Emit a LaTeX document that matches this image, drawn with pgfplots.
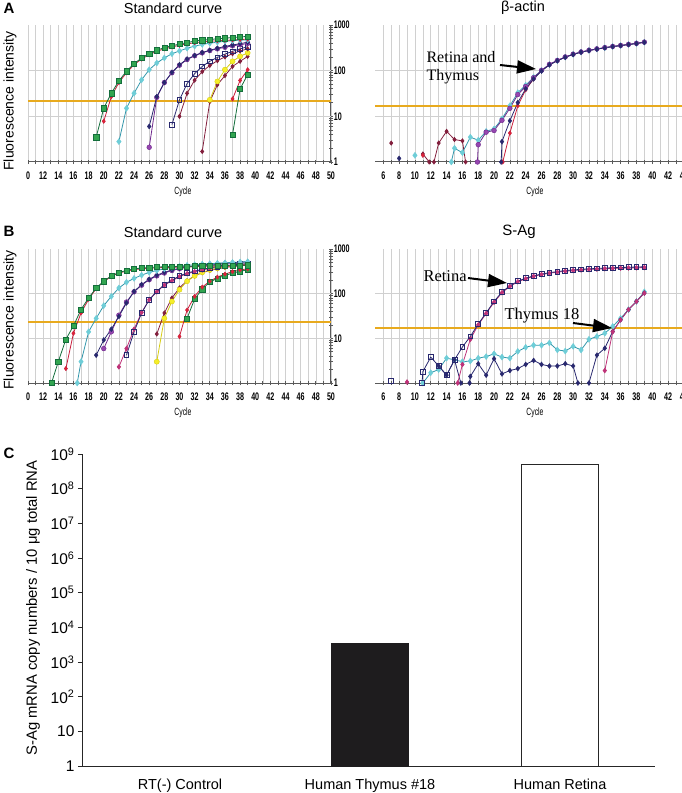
\documentclass[border=0pt]{standalone}
\usepackage{fontspec}
\setmainfont{Liberation Sans}
\newfontfamily\narrowfont[FakeStretch=0.65]{Liberation Sans}
\newfontfamily\serifA{Liberation Serif}
\usepackage{pgfplots}
\pgfplotsset{compat=1.18}
\usetikzlibrary{arrows.meta}

\definecolor{axgray}{RGB}{90,90,90}
\definecolor{gridgray}{RGB}{208,208,208}
\definecolor{thr}{RGB}{232,170,30}
\definecolor{lnGreen}{RGB}{20,110,60}
\definecolor{mkGreen}{RGB}{50,165,80}
\definecolor{lnRed}{RGB}{200,30,60}
\definecolor{mkRed}{RGB}{225,35,55}
\definecolor{lnCyan}{RGB}{50,150,170}
\definecolor{mkCyan}{RGB}{110,205,215}
\definecolor{lnPurple}{RGB}{110,40,140}
\definecolor{mkPurple}{RGB}{150,70,175}
\definecolor{navy}{RGB}{40,40,110}
\definecolor{lnYellow}{RGB}{215,205,20}
\definecolor{mkYellow}{RGB}{245,238,40}
\definecolor{brownred}{RGB}{130,30,60}
\definecolor{magenta2}{RGB}{190,50,120}
\definecolor{barblack}{RGB}{30,28,30}

\newcommand\tickfont{\narrowfont\bfseries\fontsize{11}{12}\selectfont}

\tikzset{
  sGreen/.style={color=lnGreen, line width=0.8pt, mark=square*, mark size=2.6pt, mark options={fill=mkGreen, draw=lnGreen, line width=0.4pt}},
  sRed/.style={color=lnRed, line width=0.8pt, mark=diamond*, mark size=2.2pt, mark options={fill=mkRed, draw=lnRed, line width=0.4pt}},
  sCyan/.style={color=lnCyan, line width=0.8pt, mark=diamond*, mark size=3pt, mark options={fill=mkCyan, draw=mkCyan, line width=0.4pt}},
  sPurple/.style={color=lnPurple, line width=0.8pt, mark=*, mark size=2.4pt, mark options={fill=mkPurple, draw=lnPurple, line width=0.4pt}},
  sNavy/.style={color=navy, line width=0.8pt, mark=diamond*, mark size=2.5pt, mark options={fill=navy, draw=navy, line width=0.4pt}},
  sNavySq/.style={color=navy, line width=0.8pt, mark=square, mark size=2.4pt, mark options={fill=white, draw=navy, line width=0.8pt}},
  sYellow/.style={color=lnYellow, line width=0.8pt, mark=*, mark size=2.6pt, mark options={fill=mkYellow, draw=lnYellow, line width=0.4pt}},
  sBrown/.style={color=brownred, line width=0.8pt, mark=diamond*, mark size=2pt, mark options={fill=brownred, draw=brownred}},
  sMag/.style={color=magenta2, line width=0.8pt, mark=diamond*, mark size=2.2pt, mark options={fill=magenta2, draw=magenta2}},
  sThr/.style={color=thr, line width=1.8pt},
}

\begin{document}
\begin{tikzpicture}
\path[use as bounding box] (0,0) rectangle (681pt,-793pt);

% ---------------- A left: standard curve
\begin{axis}[at={(28pt,-25pt)}, anchor=north west, height=137pt, width=303pt,
    scale only axis, ymode=log, ymin=1, ymax=1000, clip=false,
    unbounded coords=jump, xmin=10, xmax=50,
    axis x line=bottom, axis y line=right,
    axis line style={-, draw=axgray, line width=1pt},
    xmajorgrids, xminorgrids,
    major grid style={gridgray, line width=0.6pt},
    minor grid style={gridgray, line width=0.6pt},
    xtick={10,12,...,50}, minor x tick num=1,
    xticklabels={0,12,14,16,18,20,22,24,26,28,30,32,34,36,38,40,42,44,46,48,50},
    ytick={1,10,100,1000}, yticklabels={1,10,100,1000},
    extra y ticks={10,100}, extra y tick labels={},
    extra y tick style={grid=major, major tick length=0pt},
    tick align=center, major tick length=4.5pt, minor tick length=4.5pt,
    tick style={axgray, line width=0.7pt},
    x tick label style={font=\tickfont, yshift=-4pt},
    y tick label style={font=\tickfont, xshift=-3pt}]
\addplot[sThr, mark=none] coordinates {(10,22)(50,22)};
\addplot[sGreen] coordinates {(37,4)(38,40)(39,82)};
\addplot[sRed] coordinates {(37,24)(38,61)(39,105)};
\addplot[sBrown] coordinates {(33,1.7)(34,21)(35,49)(36,78)(37,124)(38,160)(39,206)};
\addplot[sYellow] coordinates {(34,23)(35,58)(36,105)(37,160)(38,206)(39,245)};
\addplot[sBrown] coordinates {(30,10)(31,32)(32,62)(33,95)(34,130)(35,165)(36,200)(37,235)(38,270)(39,300)};
\addplot[sNavySq] coordinates {(29,6.6)(30,23)(31,52)(32,86)(33,124)(34,160)(35,195)(36,230)(37,265)(38,300)(39,335)};
\addplot[sPurple] coordinates {(26,2.1)(27,26)(28,55)(29,90)(30,132)(31,175)(32,212)(33,245)(34,275)(35,300)(36,325)(37,350)(38,370)(39,395)};
\addplot[sNavy] coordinates {(26,6)(27,27)(28,55)(29,92)(30,135)(31,180)(32,215)(33,250)(34,280)(35,310)(36,340)(37,365)(38,390)(39,420)};
\addplot[sCyan] coordinates {(22,2.8)(23,15)(24,32)(25,63)(26,105)(27,147)(28,190)(29,235)(30,270)(31,310)(32,345)(33,375)(34,400)(35,420)(36,440)(37,455)(38,465)(39,475)};
\addplot[sRed] coordinates {(20,7.8)(21,27)(22,55)(23,90)(24,135)(25,180)(26,225)(27,265)(28,300)(29,330)(30,360)(31,385)(32,410)(33,425)(34,440)(35,450)(36,460)(37,470)(38,480)(39,490)};
\addplot[sGreen] coordinates {(19,3.5)(20,15)(21,32)(22,60)(23,97)(24,142)(25,190)(26,237)(27,280)(28,320)(29,350)(30,383)(31,410)(32,446)(33,465)(34,480)(35,500)(36,515)(37,530)(38,545)(39,565)};
\end{axis}

% ---------------- A right: beta-actin
\begin{axis}[at={(375.4pt,-25pt)}, anchor=north west, height=137pt, width=308.5pt,
    scale only axis, ymode=log, ymin=1, ymax=1000, clip=false,
    unbounded coords=jump, xmin=5, xmax=44,
    axis x line=bottom, axis y line=left,
    x axis line style={-, draw=axgray, line width=1pt},
    y axis line style={draw=none},
    xmajorgrids, xminorgrids,
    major grid style={gridgray, line width=0.6pt},
    minor grid style={gridgray, line width=0.6pt},
    xtick={6,8,...,44}, minor x tick num=1,
    ytick=\empty, yminorticks=false,
    extra y ticks={10,100}, extra y tick labels={},
    extra y tick style={grid=major, major tick length=0pt},
    tick align=center, major tick length=4.5pt, minor tick length=4.5pt,
    tick style={axgray, line width=0.7pt},
    /pgf/number format/assume math mode=true,
    x tick label style={font=\tickfont, yshift=-4pt}]
\addplot[sThr, mark=none] coordinates {(5,17)(44,17)};
\addplot[sBrown] coordinates {(7,2.6)(8,nan)(11,1.5)(11.8,1)(12,nan)(12.4,1)(13,2.6)(14,4.7)(15,3.1)(16,2.9)(16.4,1)};
\addplot[sRed] coordinates {(11,1.4)(12,nan)(21.1,1)(22,4.3)(23,17)(24,38)(25,66)(26,100)(27,135)(28,166)(29,198)(30,228)(31,255)(32,278)(33,298)(34,318)(35,338)(36,355)(37,375)(38,395)(39,420)};
\addplot[sCyan] coordinates {(10,1.4)(11,nan)(14.6,1)(15,2.0)(16,1.6)(17,3.5)(18,3.0)(19,4.7)(20,5.3)(21,8.8)(22,17)(23,33)(24,48)(25,72)(26,101)(27,136)(28,166)(29,198)(30,228)(31,255)(32,278)(33,298)(34,318)(35,338)(36,355)(37,375)(38,395)(39,420)};
\addplot[sPurple] coordinates {(17.9,1)(18,2.4)(19,4.5)(20,4.9)(21,8.2)(22,15)(23,30)(24,45)(25,70)(26,102)(27,138)(28,168)(29,200)(30,230)(31,257)(32,280)(33,300)(34,320)(35,340)(36,357)(37,377)(38,397)(39,422)};
\addplot[sNavy] coordinates {(8,1.2)(9,nan)(20.9,1)(21,2.8)(22,8)(23,20)(24,40)(25,66)(26,98)(27,134)(28,164)(29,196)(30,226)(31,254)(32,276)(33,296)(34,316)(35,336)(36,353)(37,372)(38,392)(39,418)};
\end{axis}

% ---------------- B left: standard curve
\begin{axis}[at={(28pt,-249pt)}, anchor=north west, height=134pt, width=303pt,
    scale only axis, ymode=log, ymin=1, ymax=1000, clip=false,
    unbounded coords=jump, xmin=10, xmax=50,
    axis x line=bottom, axis y line=right,
    axis line style={-, draw=axgray, line width=1pt},
    xmajorgrids, xminorgrids,
    major grid style={gridgray, line width=0.6pt},
    minor grid style={gridgray, line width=0.6pt},
    xtick={10,12,...,50}, minor x tick num=1,
    xticklabels={0,12,14,16,18,20,22,24,26,28,30,32,34,36,38,40,42,44,46,48,50},
    ytick={1,10,100,1000}, yticklabels={1,10,100,1000},
    extra y ticks={10,100}, extra y tick labels={},
    extra y tick style={grid=major, major tick length=0pt},
    tick align=center, major tick length=4.5pt, minor tick length=4.5pt,
    tick style={axgray, line width=0.7pt},
    x tick label style={font=\tickfont, yshift=-4pt},
    y tick label style={font=\tickfont, xshift=-3pt}]
\addplot[sThr, mark=none] coordinates {(10,23)(50,23)};
\addplot[sGreen] coordinates {(31,28)(32,76)(33,126)(34,182)(35,220)(36,255)(37,290)(38,315)(39,345)};
\addplot[sRed] coordinates {(30,11)(31,43)(32,87)(33,140)(34,190)(35,235)(36,275)(37,310)(38,340)(39,360)};
\addplot[sBrown] coordinates {(27,12.5)(28,37)(29,80)(30,135)(31,195)(32,250)(33,295)(34,330)(35,360)(36,385)(37,405)(38,420)(39,435)};
\addplot[sYellow] coordinates {(27,3)(28,28)(29,67)(30,123)(31,190)(32,250)(33,300)(34,340)(35,370)(36,400)(37,420)(38,440)(39,455)};
\addplot[sMag] coordinates {(22,2.3)(23,5.9)(24,16)(25,38)(26,73)(27,110)(28,155)(29,195)(30,240)(31,280)(32,310)(33,340)(34,365)(35,385)(36,405)(37,420)(38,435)(39,450)};
\addplot[sNavySq] coordinates {(23,4.2)(24,14)(25,37)(26,73)(27,112)(28,160)(29,200)(30,250)(31,290)(32,320)(33,350)(34,380)(35,400)(36,420)(37,440)(38,455)(39,470)};
\addplot[sPurple] coordinates {(20,5.9)(21,14)(22,33)(23,65)(24,110)(25,155)(26,205)(27,250)(28,290)(29,330)(30,360)(31,390)(32,410)(33,425)(34,440)(35,450)(36,460)(37,470)(38,480)(39,490)};
\addplot[sNavy] coordinates {(19,4.2)(20,9.2)(21,16)(22,31)(23,62)(24,112)(25,160)(26,210)(27,260)(28,300)(29,340)(30,370)(31,400)(32,420)(33,440)(34,455)(35,470)(36,485)(37,495)(38,505)(39,515)};
\addplot[sCyan] coordinates {(16.5,1)(17,3)(18,14)(19,28)(20,54)(21,87)(22,134)(23,180)(24,220)(25,260)(26,300)(27,330)(28,360)(29,390)(30,410)(31,430)(32,445)(33,460)(34,470)(35,480)(36,490)(37,500)(38,510)(39,520)};
\addplot[sRed] coordinates {(15,2.1)(16,13)(17,37)(18,75)(19,130)(20,185)(21,245)(22,290)(23,320)(24,345)(25,360)(26,370)(27,380)(28,385)(29,390)(30,395)(31,400)(32,405)(33,410)(34,412)(35,415)(36,418)(37,420)(38,425)(39,430)};
\addplot[sGreen] coordinates {(13.1,1)(14,3)(15,9.5)(16,19)(17,44)(18,80)(19,134)(20,190)(21,250)(22,300)(23,330)(24,360)(25,375)(26,385)(27,395)(28,400)(29,405)(30,410)(31,410)(32,415)(33,420)(34,420)(35,425)(36,425)(37,430)(38,430)(39,435)};
\end{axis}

% ---------------- B right: S-Ag
\begin{axis}[at={(375.4pt,-249pt)}, anchor=north west, height=134pt, width=308.5pt,
    scale only axis, ymode=log, ymin=1, ymax=1000, clip=false,
    unbounded coords=jump, xmin=5, xmax=44,
    axis x line=bottom, axis y line=left,
    x axis line style={-, draw=axgray, line width=1pt},
    y axis line style={draw=none},
    xmajorgrids, xminorgrids,
    major grid style={gridgray, line width=0.6pt},
    minor grid style={gridgray, line width=0.6pt},
    xtick={6,8,...,44}, minor x tick num=1,
    ytick=\empty, yminorticks=false,
    extra y ticks={10,100}, extra y tick labels={},
    extra y tick style={grid=major, major tick length=0pt},
    tick align=center, major tick length=4.5pt, minor tick length=4.5pt,
    tick style={axgray, line width=0.7pt},
    /pgf/number format/assume math mode=true,
    x tick label style={font=\tickfont, yshift=-4pt}]
\addplot[sThr, mark=none] coordinates {(5,17)(44,17)};
\addplot[sCyan] coordinates {(11,1)(12,1.7)(13,2.0)(14,3.6)(15,3.3)(16,3.0)(17,3.1)(18,3.6)(19,3.9)(20,4.5)(21,3.8)(22,3.6)(23,5.1)(24,6.3)(25,7)(26,7)(27,7.9)(28,5.5)(29,5.2)(30,6.6)(31,5.5)(32,9.5)(33,11)(34,13)(35,18.5)(36,28)(37,44)(38,67)(39,110)};
\addplot[sNavy] coordinates {(13,2.4)(14,1.5)(15,3.3)(15.8,1)(16,nan)(16.9,1)(17,1.4)(18,2.7)(19,1.5)(20,3.5)(21,1.6)(22,1.9)(23,2.1)(24,2.6)(25,3.2)(26,2.6)(27,2.4)(28,2.4)(29,2.7)(30,2.4)(30.6,1)(31,nan)(32,1)(33,4.2)(34,6)(35,14.3)(36,26)(37,44)(38,67)(39,103)};
\addplot[sMag] coordinates {(34,1.9)(35,14)(36,26)(37,44)(38,67)(39,103)};
\addplot[sMag] coordinates {(9,1.05)(10,nan)(15.4,1)(16,2.6)(17,9.5)(18,20)(19,36)(20,64)(21,105)(22,145)(23,185)(24,215)(25,245)(26,268)(27,288)(28,303)(29,318)(30,330)(31,340)(32,348)(33,355)(34,362)(35,368)(36,372)(37,376)(38,380)(39,385)};
\addplot[sNavySq] coordinates {(7,1.1)(8,nan)(10.9,1)(11,1.8)(12,3.8)(13,2.4)(14,1.5)(15,3.3)(16,6.4)(17,11)(18,21)(19,37)(20,67)(21,109)(22,150)(23,190)(24,222)(25,250)(26,275)(27,295)(28,312)(29,328)(30,340)(31,350)(32,360)(33,367)(34,375)(35,380)(36,386)(37,390)(38,395)(39,400)};
\end{axis}

% ---------------- C: bar chart
\begin{axis}[at={(82pt,-454pt)}, anchor=north west, scale only axis,
  width=573pt, height=312pt, ymode=log, ymin=1, ymax=1e9,
  xmin=-0.516, xmax=2.5,
  axis x line=bottom, axis y line=left,
  axis line style={-, draw=black!85, line width=1pt},
  xtick={0,1,2}, xticklabels={RT(-) Control, Human Thymus \#18, Human Retina},
  x tick style={draw=none},
  x tick label style={font=\fontsize{14.5}{16}\selectfont, yshift=-5pt},
  ytick={1,10,100,1000,10000,100000,1000000,10000000,100000000,1000000000},
  yticklabels={1,10,10\textsuperscript{2},10\textsuperscript{3},10\textsuperscript{4},10\textsuperscript{5},10\textsuperscript{6},10\textsuperscript{7},10\textsuperscript{8},10\textsuperscript{9}},
  y tick label style={font=\fontsize{15.5}{17}\selectfont},
  y tick style={black!85, line width=0.9pt},
  tick align=outside, major tick length=4pt, yminorticks=false,
  clip=false]
\addplot[ybar, bar width=77pt, bar shift=0pt, fill=barblack, draw=barblack] coordinates {(1,3600)};
\addplot[ybar, bar width=77pt, bar shift=0pt, fill=white, draw=black!85, line width=1pt] coordinates {(2,500000000)};
\end{axis}

% ---------------- texts
\node[font=\fontsize{14.5}{16}\selectfont] at (173pt,-8pt) {Standard curve};
\node[font=\fontsize{14.5}{16}\selectfont] at (523pt,-8pt) {β-actin};
\node[font=\fontsize{14.5}{16}\selectfont] at (173pt,-232pt) {Standard curve};
\node[font=\fontsize{15}{16}\selectfont] at (519pt,-232pt) {S-Ag};
\node[font=\bfseries\fontsize{15}{16}\selectfont] at (9pt,-8pt) {A};
\node[font=\bfseries\fontsize{15}{16}\selectfont] at (9pt,-231pt) {B};
\node[font=\bfseries\fontsize{15}{16}\selectfont] at (9pt,-453pt) {C};
\node[rotate=90, font=\fontsize{14}{16}\selectfont] at (10pt,-101pt) {Fluorescence intensity};
\node[rotate=90, font=\fontsize{14}{16}\selectfont] at (10pt,-320pt) {Fluorescence intensity};
\node[rotate=90, font=\fontsize{14.8}{16}\selectfont] at (33pt,-608pt) {S-Ag mRNA copy numbers / 10 μg total RNA};
\node[font=\narrowfont\fontsize{10.5}{12}\selectfont] at (183pt,-192pt) {Cycle};
\node[font=\narrowfont\fontsize{10.5}{12}\selectfont] at (535pt,-192pt) {Cycle};
\node[font=\narrowfont\fontsize{10.5}{12}\selectfont] at (183pt,-413pt) {Cycle};
\node[font=\narrowfont\fontsize{10.5}{12}\selectfont] at (535pt,-413pt) {Cycle};
\node[anchor=west, font=\serifA\fontsize{16}{18}\selectfont] at (423pt,-57pt) {Retina and};
\node[anchor=west, font=\serifA\fontsize{16}{18}\selectfont] at (423pt,-77pt) {Thymus};
\node[anchor=west, font=\serifA\fontsize{16.5}{18}\selectfont] at (420pt,-276pt) {Retina};
\node[anchor=west, font=\serifA\fontsize{16.5}{18}\selectfont] at (501pt,-316pt) {Thymus 18};
\draw[line width=2pt, -{Triangle[length=19pt,width=13pt]}] (500pt,-65pt) -- (536pt,-69pt);
\draw[line width=2pt, -{Triangle[length=19pt,width=13pt]}] (468pt,-278pt) -- (507pt,-283pt);
\draw[line width=2pt, -{Triangle[length=19pt,width=13pt]}] (573pt,-323pt) -- (612pt,-328pt);
\end{tikzpicture}
\end{document}
